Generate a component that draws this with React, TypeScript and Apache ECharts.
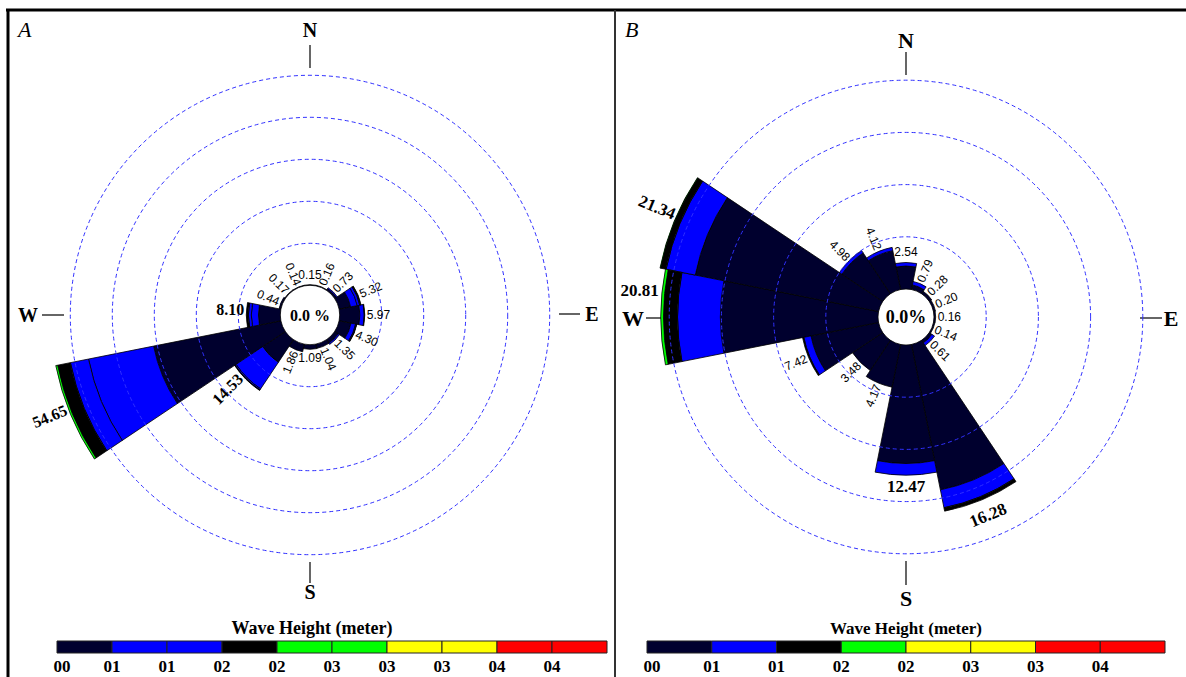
import React, { useEffect, useRef } from 'react';
import * as echarts from 'echarts';

const DIRS = ['N', 'NNE', 'NE', 'ENE', 'E', 'ESE', 'SE', 'SSE', 'S', 'SSW', 'SW', 'WSW', 'W', 'WNW', 'NW', 'NNW'];

// ---------- Panel A (percent per direction, stacked by wave-height class) ----------
const A_TOTAL = [0.15, 0.16, 0.73, 5.32, 5.97, 4.30, 1.35, 1.04, 1.09, 1.86, 14.53, 54.65, 8.10, 0.44, 0.17, 0.14];
const A_CLASS0 = [0.15, 0.16, 0.45, 2.8, 4.8, 2.9, 1.0, 1.04, 1.09, 1.86, 6.5, 30.9, 5.2, 0.3, 0.17, 0.14];
const A_CLASS1 = [0, 0, 0.28, 1.6, 1.05, 1.1, 0.35, 0, 0, 0, 7.6, 15.8, 1.7, 0.14, 0, 0];
const A_CLASS2 = [0, 0, 0, 0.6, 0, 0.2, 0, 0, 0, 0, 0.3, 4.4, 0.7, 0, 0, 0];
const A_CLASS3 = [0, 0, 0, 0.32, 0.12, 0.1, 0, 0, 0, 0, 0.13, 3.1, 0.5, 0, 0, 0];
const A_CLASS4 = [0, 0, 0, 0, 0, 0, 0, 0, 0, 0, 0, 0.45, 0, 0, 0, 0];
const A_COLORS = ['#00002e', '#0000ff', '#0000ff', '#000000', '#00ff00', '#00ff00', '#ffff00', '#ffff00', '#ff0000', '#ff0000'];
const A_TICKS = ['00', '01', '01', '02', '02', '03', '03', '03', '04', '04'];

// ---------- Panel B ----------
const B_TOTAL = [2.54, 0.79, 0.28, 0.20, 0.16, 0.14, 0.61, 16.28, 12.47, 4.17, 3.48, 7.42, 20.81, 21.34, 4.98, 4.12];
const B_CLASS0 = [2.2, 0.45, 0.28, 0.2, 0.16, 0.14, 0.3, 14.2, 11.35, 4.17, 3.48, 6.6, 15.1, 17.9, 4.7, 3.8];
const B_CLASS1 = [0.34, 0.34, 0, 0, 0, 0, 0.31, 1.75, 1.12, 0, 0, 0.7, 4.1, 2.85, 0.28, 0.32];
const B_CLASS2 = [0, 0, 0, 0, 0, 0, 0, 0.33, 0, 0, 0, 0.12, 1.35, 0.54, 0, 0];
const B_CLASS3 = [0, 0, 0, 0, 0, 0, 0, 0, 0, 0, 0, 0, 0.26, 0.05, 0, 0];
const B_COLORS = ['#00002e', '#0000ff', '#000000', '#00ff00', '#ffff00', '#ffff00', '#ff0000', '#ff0000'];
const B_TICKS = ['00', '01', '01', '02', '02', '03', '03', '04'];

const SERIF = '"Liberation Serif", "Times New Roman", serif';
const SANS = '"Liberation Sans", Arial, sans-serif';

type Panel = {
  center: [number, number];
  hole: number;
  scale: number;
  ringMin: number;
  ringMax: number;
  ringStep: number;
  barMax: number;
  totals: number[];
  classes: number[][];
  colors: string[];
  ticks: string[];
  centerText: string;
  centerFont: number;
  bigFont: number;
  letter: string;
  letterX: number;
  compass: { N: [number, number]; S: [number, number]; E: [number, number]; W: [number, number] };
  compassFont: number;
  nLine: [number, number];
  sLine: [number, number];
  eLine: [number, number];
  wLine: [number, number];
  legendX: number;
  legendW: number;
  titleX: number;
  titleFont: number;
};

const PANELS: Panel[] = [
  {
    center: [310, 315], hole: 29.7, scale: 4.2, ringMin: 10, ringMax: 50, ringStep: 10, barMax: 60,
    totals: A_TOTAL, classes: [A_CLASS0, A_CLASS1, A_CLASS2, A_CLASS3, A_CLASS4], colors: A_COLORS, ticks: A_TICKS,
    centerText: '0.0 %', centerFont: 16, bigFont: 16, letter: 'A', letterX: 18,
    compass: { N: [310, 30], S: [310, 592], E: [592, 314], W: [28, 315] }, compassFont: 20,
    nLine: [45, 68], sLine: [562, 583], eLine: [559, 580], wLine: [42, 64],
    legendX: 57, legendW: 550, titleX: 312, titleFont: 18,
  },
  {
    center: [906, 317], hole: 28, scale: 10.44, ringMin: 5, ringMax: 20, ringStep: 5, barMax: 25,
    totals: B_TOTAL, classes: [B_CLASS0, B_CLASS1, B_CLASS2, B_CLASS3], colors: B_COLORS, ticks: B_TICKS,
    centerText: '0.0%', centerFont: 18, bigFont: 17, letter: 'B', letterX: 625,
    compass: { N: [906, 40], S: [906, 598], E: [1171, 318], W: [633, 318] }, compassFont: 22,
    nLine: [52, 75], sLine: [561, 585], eLine: [1140, 1162], wLine: [646, 668],
    legendX: 647, legendW: 518, titleX: 906, titleFont: 17,
  },
];

function buildOption() {
  const polar: any[] = [];
  const radiusAxis: any[] = [];
  const angleAxis: any[] = [];
  const series: any[] = [];
  const graphic: any[] = [];

  const hidden = { axisLine: { show: false }, axisTick: { show: false }, axisLabel: { show: false }, splitLine: { show: false } };

  PANELS.forEach((pn, pi) => {
    const ringIdx = pi * 2;
    const barIdx = pi * 2 + 1;
    const outerRing = pn.hole + pn.scale * pn.ringMax;
    polar.push({ center: pn.center, radius: [pn.hole + pn.scale * pn.ringMin, outerRing] });
    polar.push({ center: pn.center, radius: [pn.hole, pn.hole + pn.scale * pn.barMax] });
    radiusAxis.push({
      polarIndex: ringIdx, type: 'value', min: pn.ringMin, max: pn.ringMax, interval: pn.ringStep, z: 6,
      axisLine: { show: false }, axisTick: { show: false }, axisLabel: { show: false },
      splitLine: { show: true, lineStyle: { color: '#3030ff', width: 1, type: [4, 3] } },
    });
    radiusAxis.push({ polarIndex: barIdx, type: 'value', min: 0, max: pn.barMax, ...hidden });
    angleAxis.push({ polarIndex: ringIdx, type: 'value', min: 0, max: 360, ...hidden });
    angleAxis.push({ polarIndex: barIdx, type: 'category', data: DIRS, startAngle: 90 + 11.25, boundaryGap: true, ...hidden });

    pn.classes.forEach((arr, ci) => {
      series.push({
        type: 'bar', coordinateSystem: 'polar', polarIndex: barIdx, stack: 'P' + pi, z: 2,
        barCategoryGap: '0%', barGap: '0%',
        data: arr.map((v) => (v > 0 ? v : '-')),
        itemStyle: { color: pn.colors[ci], borderColor: '#000', borderWidth: 0.8 },
        silent: true,
      });
    });

    series.push({
      type: 'custom', coordinateSystem: 'polar', polarIndex: barIdx, z: 10, silent: true,
      data: pn.totals.map((t, i) => [t, i]),
      renderItem: (params: any, api: any) => {
        const r = api.value(0) as number;
        const idx = api.value(1) as number;
        const p = api.coord([r, idx]);
        const cs = params.coordSys;
        const dx = p[0] - cs.cx;
        const dy = p[1] - cs.cy;
        const len = Math.hypot(dx, dy) || 1;
        const ux = dx / len;
        const uy = dy / len;
        const bold = r >= 8;
        const fs = bold ? pn.bigFont : 12;
        const font = bold ? `bold ${fs}px ${SERIF}` : `${fs}px ${SANS}`;
        const text = r.toFixed(2);
        let align = 'left';
        let vAlign = 'middle';
        let rot = 0;
        let gap = 2;
        let perp = 0;
        if (idx === 0) { align = 'center'; vAlign = 'bottom'; gap = 4; }
        else if (idx === 8) { align = 'center'; vAlign = 'top'; gap = 3; }
        else {
          rot = Math.atan2(-dy, dx);
          if (idx > 8) rot += Math.PI;
          if (rot > Math.PI) rot -= 2 * Math.PI;
          align = idx < 8 ? 'left' : 'right';
          if (bold && Math.abs(rot) > (50 * Math.PI) / 180) {
            // steep bold labels are written across the bar end
            rot = rot < 0 ? rot + Math.PI / 2 : rot - Math.PI / 2;
            align = 'center';
            vAlign = uy > 0 ? 'top' : 'bottom';
            gap = 8;
          } else if (bold) {
            perp = 6;
            const estW = text.length * fs * 0.5;
            if (idx % 8 === 4 && len + gap + estW > outerRing + 14) perp = 27;
          }
        }
        const upx = -Math.sin(rot);
        const upy = -Math.cos(rot);
        return {
          type: 'text', x: p[0] + ux * gap + upx * perp, y: p[1] + uy * gap + upy * perp, rotation: rot,
          style: { text, font, fill: '#000', align, verticalAlign: vAlign },
        };
      },
    });

    // centre text
    graphic.push({
      type: 'text', x: pn.center[0], y: pn.center[1], z: 20,
      style: { text: pn.centerText, font: `bold ${pn.centerFont}px ${SERIF}`, fill: '#000', align: 'center', verticalAlign: 'middle' },
    });
    // panel letter
    graphic.push({
      type: 'text', x: pn.letterX, y: 29,
      style: { text: pn.letter, font: `italic 22px ${SERIF}`, fill: '#000', align: 'left', verticalAlign: 'middle' },
    });
    // compass labels
    const cf = `bold ${pn.compassFont}px ${SERIF}`;
    (['N', 'S', 'E', 'W'] as const).forEach((k) => {
      graphic.push({
        type: 'text', x: pn.compass[k][0], y: pn.compass[k][1],
        style: { text: k, font: cf, fill: '#000', align: 'center', verticalAlign: 'middle' },
      });
    });
    const lineStyle = { stroke: '#000', lineWidth: 1.2 };
    graphic.push({ type: 'line', shape: { x1: pn.center[0], y1: pn.nLine[0], x2: pn.center[0], y2: pn.nLine[1] }, style: lineStyle });
    graphic.push({ type: 'line', shape: { x1: pn.center[0], y1: pn.sLine[0], x2: pn.center[0], y2: pn.sLine[1] }, style: lineStyle });
    graphic.push({ type: 'line', shape: { x1: pn.eLine[0], y1: pn.compass.E[1], x2: pn.eLine[1], y2: pn.compass.E[1] }, style: lineStyle });
    graphic.push({ type: 'line', shape: { x1: pn.wLine[0], y1: pn.compass.W[1], x2: pn.wLine[1], y2: pn.compass.W[1] }, style: lineStyle });

    // legend
    graphic.push({
      type: 'text', x: pn.titleX, y: 628,
      style: { text: 'Wave Height (meter)', font: `bold ${pn.titleFont}px ${SERIF}`, fill: '#000', align: 'center', verticalAlign: 'middle' },
    });
    const n = pn.colors.length;
    const bw = pn.legendW / n;
    pn.colors.forEach((c, i) => {
      graphic.push({
        type: 'rect', shape: { x: pn.legendX + i * bw, y: 641, width: bw, height: 12 },
        style: { fill: c, stroke: '#222', lineWidth: 1 },
      });
      graphic.push({
        type: 'text', x: pn.legendX + i * bw + (i === 0 ? 5 : 0), y: 666,
        style: { text: pn.ticks[i], font: `bold 17px ${SERIF}`, fill: '#000', align: 'center', verticalAlign: 'middle' },
      });
    });
  });

  // frames
  graphic.push({ type: 'line', shape: { x1: 6, y1: 10, x2: 1186, y2: 10 }, style: { stroke: '#000', lineWidth: 3 } });
  graphic.push({ type: 'line', shape: { x1: 8, y1: 9, x2: 8, y2: 677 }, style: { stroke: '#000', lineWidth: 3 } });
  graphic.push({ type: 'line', shape: { x1: 615, y1: 10, x2: 615, y2: 677 }, style: { stroke: '#333', lineWidth: 2 } });

  return {
    animation: false,
    backgroundColor: '#fff',
    polar,
    radiusAxis,
    angleAxis,
    series,
    graphic,
  };
}

export default function App() {
  const ref = useRef<HTMLDivElement>(null);
  useEffect(() => {
    if (!ref.current) return;
    const chart = echarts.init(ref.current, undefined, { renderer: 'svg' });
    chart.setOption(buildOption() as any);
    return () => chart.dispose();
  }, []);
  return <div ref={ref} style={{ position: 'fixed', left: 0, top: 0, width: 1186, height: 677 }} />;
}
